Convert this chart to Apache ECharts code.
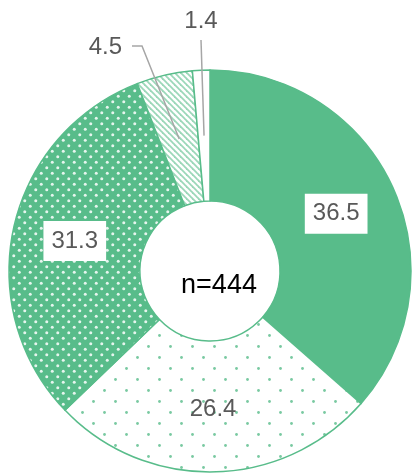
<!DOCTYPE html>
<html>
<head>
<meta charset="utf-8">
<script src="https://cdn.jsdelivr.net/npm/echarts@6/dist/echarts.min.js"></script>
<style>
  html, body { margin: 0; padding: 0; background: #fff; }
  #chart { width: 414px; height: 473px; }
</style>
</head>
<body>
<div id="chart"></div>
<script>
var sliceNames = ['A', 'B', 'C', 'D', 'E'];
var sliceValues = [36.5, 26.4, 31.3, 4.5, 1.4];
var sampleLabel = 'n=444';

var GREEN = '#58BC8A';
var TEXT = '#595959';

function makeTile(w, h, draw) {
    var c = document.createElement('canvas');
    c.width = w;
    c.height = h;
    draw(c.getContext('2d'));
    return { image: c, repeat: 'repeat' };
}

var sparseDots = makeTile(22, 22, function(ctx) {
    ctx.fillStyle = '#fff';
    ctx.fillRect(0, 0, 22, 22);
    ctx.fillStyle = 'rgba(88,188,138,0.8)';
    [[5.5, 5.5], [16.5, 16.5]].forEach(function(p) {
        ctx.beginPath();
        ctx.arc(p[0], p[1], 1.4, 0, Math.PI * 2);
        ctx.fill();
    });
});

var denseDots = makeTile(11, 11, function(ctx) {
    ctx.fillStyle = GREEN;
    ctx.fillRect(0, 0, 11, 11);
    ctx.fillStyle = 'rgba(255,255,255,0.85)';
    [[2.75, 2.75], [8.25, 8.25]].forEach(function(p) {
        ctx.beginPath();
        ctx.arc(p[0], p[1], 1.5, 0, Math.PI * 2);
        ctx.fill();
    });
});

var stripes = makeTile(6, 6, function(ctx) {
    ctx.fillStyle = '#fff';
    ctx.fillRect(0, 0, 6, 6);
    ctx.strokeStyle = 'rgba(88,188,138,0.6)';
    ctx.lineWidth = 1.8;
    for (var k = -1; k <= 1; k++) {
        ctx.beginPath();
        ctx.moveTo(k * 6 - 1, -1);
        ctx.lineTo(k * 6 + 7, 7);
        ctx.stroke();
    }
});

var fills = [GREEN, sparseDots, denseDots, stripes, '#fff'];

var CX = 210, CY = 271, R0 = 70, R1 = 201;

// mid angle (clockwise from 12 o'clock) of a slice
function midAngle(idx) {
    var total = 0, before = 0;
    sliceValues.forEach(function(v, i) {
        total += v;
        if (i < idx) before += v;
    });
    return (before + sliceValues[idx] / 2) / total * Math.PI * 2;
}

function anchor(idx) {
    var a = midAngle(idx), r = (R0 + R1) / 2;
    return [CX + r * Math.sin(a), CY - r * Math.cos(a)];
}

var boxLabel = {
    position: 'inside',
    color: TEXT,
    backgroundColor: '#fff',
    padding: [8, 8]
};

// outside labels: text position plus the elbow of the leader line
var outsideLabels = {
    3: { x: 122, y: 47, align: 'right', elbow: [[142, 46], [132, 46]] },
    4: { x: 201, y: 21, align: 'center', elbow: [[201, 40]] }
};

var data = sliceValues.map(function(v, i) {
    var item = {
        name: sliceNames[i],
        value: v,
        itemStyle: { color: fills[i] }
    };
    if (i === 0 || i === 2) {
        item.label = boxLabel;
    } else if (i === 1) {
        item.label = { position: 'inside', color: TEXT };
    } else {
        item.label = { position: 'outside', color: TEXT };
    }
    return item;
});

var leaders = Object.keys(outsideLabels).map(function(k) {
    var o = outsideLabels[k];
    return {
        type: 'polyline',
        z: 20,
        silent: true,
        shape: { points: [anchor(+k)].concat(o.elbow) },
        style: { stroke: '#A6A6A6', lineWidth: 1.5, fill: null }
    };
});

var myChart = echarts.init(document.getElementById('chart'), null, { renderer: 'canvas' });
myChart.setOption({
    animation: false,
    graphic: leaders.concat([{
        type: 'text',
        x: 219,
        y: 286,
        style: {
            text: sampleLabel,
            fill: '#000',
            font: '27px "Liberation Sans"',
            align: 'center',
            verticalAlign: 'middle'
        },
        z: 10
    }]),
    series: [{
        type: 'pie',
        center: [CX, CY],
        radius: [R0, R1],
        startAngle: 90,
        clockwise: true,
        avoidLabelOverlap: false,
        silent: true,
        itemStyle: {
            borderColor: GREEN,
            borderWidth: 1.5
        },
        label: {
            show: true,
            formatter: '{c}',
            fontFamily: 'Liberation Sans',
            fontSize: 24,
            color: TEXT
        },
        labelLine: { show: false },
        labelLayout: function(params) {
            var o = outsideLabels[params.dataIndex];
            if (!o) return {};
            return {
                x: o.x,
                y: o.y,
                align: o.align,
                verticalAlign: 'middle'
            };
        },
        data: data
    }]
});
</script>
</body>
</html>
